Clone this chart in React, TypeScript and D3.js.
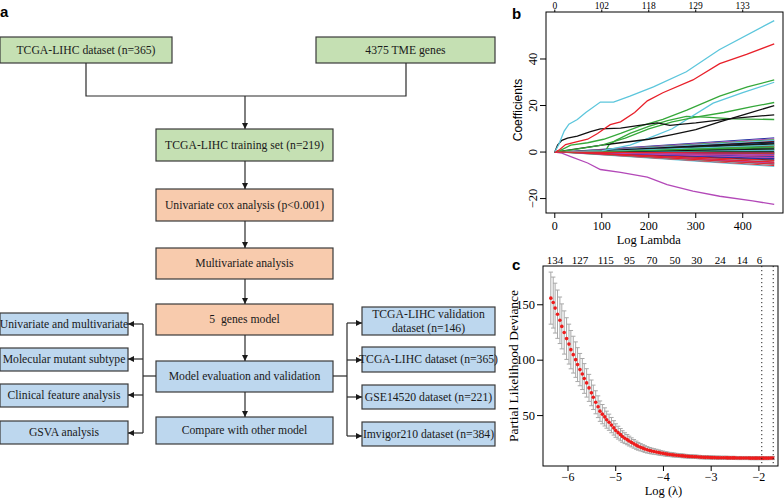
import React from 'react';
import * as d3 from 'd3';

const SERIF = '"Liberation Serif", "Times New Roman", Times, serif';
const SANS = '"Liberation Sans", Arial, Helvetica, sans-serif';

// ---------------- Panel a: flowchart text ----------------
const inputLabels = ['TCGA-LIHC dataset (n=365)', '4375 TME genes'];
const stepLabels = [
  'TCGA-LIHC training set (n=219)',
  'Univariate cox analysis (p<0.001)',
  'Multivariate analysis',
  '5  genes model',
  'Model evaluation and validation',
  'Compare with other model',
];
const stepKinds = ['green', 'orange', 'orange', 'orange', 'blue', 'blue'];
const analysisLabels = [
  'Univariate and multivariate',
  'Molecular mutant subtype',
  'Clinical feature analysis',
  'GSVA analysis',
];
const validationLabels = [
  ['TCGA-LIHC validation', 'dataset (n=146)'],
  ['TCGA-LIHC dataset (n=365)'],
  ['GSE14520 dataset (n=221)'],
  ['Imvigor210 dataset (n=384)'],
];

// ---------------- Panel b: coefficient paths ----------------
const lambdaTicks = [0, 100, 200, 300, 400];
const dfTopLabels = ['0', '102', '118', '129', '133'];
const coefTicks = [-20, 0, 20, 40];

const coefCyanA = [[0, 0], [8, 3], [20, 9], [30, 12], [48, 14], [66, 17], [97, 21.5], [125, 21.5], [160, 24], [210, 28], [280, 34.5], [350, 44], [467, 56.5]];
const coefRedA = [[0, 0], [10, 1], [23, 3.2], [48, 4.5], [70, 5.5], [91, 8], [118, 11.8], [140, 13], [170, 17], [197, 22], [230, 25.5], [294, 31], [351, 38], [408, 42], [467, 46.5]];
const coefGreenA = [[0, 0], [10, 0.5], [34, 3], [70, 4], [104, 5.5], [140, 8], [180, 11], [230, 14], [281, 18], [351, 24], [410, 28], [467, 31]];
const coefGreenB = [[0, 0], [40, 1], [100, 3], [150, 6], [200, 10], [250, 13], [300, 15], [360, 17], [420, 19.5], [467, 21.3]];
const coefGreenC = [[0, 0], [108, 0.5], [115, 3], [130, 5], [160, 8], [200, 11], [240, 13.5], [280, 15.3], [320, 15], [380, 14.3], [467, 14]];
const coefCyanB = [[0, 0], [100, 0.5], [160, 3], [200, 6], [250, 10], [281, 14], [337, 21], [400, 25.5], [467, 30]];
const coefBlackA = [[0, 0], [50, 1.5], [100, 3], [140, 4], [200, 5.5], [250, 7.5], [300, 9.6], [351, 13], [410, 16.5], [467, 20]];
const coefBlackB = [[0, 0], [6, 3], [15, 5], [27, 6], [48, 6.8], [76, 8.8], [97, 10], [140, 10.3], [180, 11.5], [218, 12.5], [245, 11.5], [300, 12.5], [380, 14.5], [467, 16]];
const coefMagentaA = [[0, 0], [15, -0.5], [34, -2], [70, -4.7], [97, -7.5], [140, -8.7], [197, -10.8], [239, -14], [294, -16.8], [351, -19], [421, -21], [467, -22.5]];

// small coefficients fanning out from zero (value at the largest Log Lambda, and where they leave zero)
const fanEnd = [6.1, -6.2, 5.7, 3.9, -5.8, 5.3, 2.6, -5.4, 4.9, -0.4, 4.6, -5.0, 4.2, 1.4, -4.6, 3.6, -4.2, 3.2, 0.8, -3.8, 2.9, -3.4, 2.3, -0.7, -3.0, 2.0, -2.6, 1.7, -2.2, 1.1, -1.9, 0.5, -1.6, 0.2, -1.3, -0.1, -1.0, 5.0, -4.8, 3.4, -3.6, 1.9, -2.8, 0.9, -1.2, 4.4, -5.2, 2.8, -0.3, 3.0, -2.4, 1.3, -4.4, 2.2];
const fanStart = [12, 10, 14, 20, 12, 16, 25, 14, 18, 12, 22, 15, 13, 30, 17, 19, 14, 24, 12, 21, 16, 26, 18, 14, 20, 28, 15, 35, 19, 22, 13, 40, 17, 15, 24, 12, 30, 45, 22, 55, 27, 60, 33, 70, 18, 50, 26, 80, 15, 65, 38, 90, 42, 75];

// ---------------- Panel c: cross-validation ----------------
const logLambda = [
  -6.36, -6.31, -6.27, -6.22, -6.17, -6.13, -6.08, -6.03, -5.98, -5.94,
  -5.89, -5.84, -5.80, -5.75, -5.70, -5.66, -5.61, -5.56, -5.51, -5.47,
  -5.42, -5.37, -5.33, -5.28, -5.23, -5.19, -5.14, -5.09, -5.04, -5.00,
  -4.95, -4.90, -4.86, -4.81, -4.76, -4.72, -4.67, -4.62, -4.57, -4.53,
  -4.48, -4.43, -4.39, -4.34, -4.29, -4.25, -4.20, -4.15, -4.10, -4.06,
  -4.01, -3.96, -3.92, -3.87, -3.82, -3.78, -3.73, -3.68, -3.63, -3.59,
  -3.54, -3.49, -3.45, -3.40, -3.35, -3.31, -3.26, -3.21, -3.16, -3.12,
  -3.07, -3.02, -2.98, -2.93, -2.88, -2.84, -2.79, -2.74, -2.69, -2.65,
  -2.60, -2.55, -2.51, -2.46, -2.41, -2.37, -2.32, -2.27, -2.22, -2.18,
  -2.13, -2.08, -2.04, -1.99, -1.94, -1.90, -1.85, -1.80, -1.75, -1.71,
];
const cvDeviance = [
  156, 152, 147, 141.5, 136, 130.5, 125, 119.5, 114.5, 109.5,
  105, 100.5, 96, 91.5, 87.5, 83.5, 79.5, 75, 70.5, 66.5,
  62, 58, 54, 51.3, 48.8, 46.3, 44, 41.4, 38.9, 36.5,
  34.6, 32.8, 31.1, 29.6, 28.3, 27, 25.8, 24.5, 23.3, 22.3,
  21.4, 20.6, 19.8, 19.1, 18.5, 18, 17.6, 17.2, 16.7, 16.3,
  15.9, 15.5, 15.2, 14.9, 14.7, 14.4, 14.2, 14, 13.8, 13.6,
  13.4, 13.2, 13.1, 13, 12.9, 12.8, 12.6, 12.5, 12.4, 12.3,
  12.3, 12.2, 12.1, 12.1, 12, 12, 11.9, 11.9, 11.9, 11.8,
  11.8, 11.8, 11.8, 11.7, 11.7, 11.7, 11.7, 11.7, 11.7, 11.6,
  11.6, 11.6, 11.6, 11.6, 11.6, 11.6, 11.6, 11.6, 11.7, 11.7,
];
const cvSE = [
  23.5, 23, 22.5, 21.8, 21, 20.3, 19.5, 18.8, 18, 17.3,
  16.6, 16, 15.3, 14.6, 14, 13.4, 12.8, 12.2, 11.6, 11,
  10.4, 9.8, 9.2, 8.7, 8.2, 7.7, 7.3, 6.9, 6.5, 6.1,
  5.8, 5.5, 5.2, 4.9, 4.6, 4.4, 4.1, 3.9, 3.7, 3.5,
  3.3, 3.1, 3, 2.9, 2.7, 2.6, 2.5, 2.4, 2.3, 2.2,
  2.1, 2, 1.95, 1.9, 1.85, 1.8, 1.75, 1.7, 1.7, 1.65,
  1.65, 1.6, 1.6, 1.6, 1.55, 1.55, 1.55, 1.5, 1.5, 1.5,
  1.5, 1.5, 1.5, 1.45, 1.45, 1.45, 1.45, 1.45, 1.45, 1.45,
  1.4, 1.4, 1.4, 1.4, 1.4, 1.4, 1.4, 1.4, 1.4, 1.4,
  1.4, 1.4, 1.4, 1.4, 1.4, 1.4, 1.4, 1.4, 1.4, 1.4,
];
const logTicks = [-6, -5, -4, -3, -2];
const devTicks = [50, 100, 150];
const nzeroAt = [-6.27, -5.75, -5.21, -4.71, -4.24, -3.76, -3.30, -2.81, -2.35, -1.99];
const nzeroLabels = ['134', '127', '115', '95', '70', '50', '30', '24', '14', '6'];
const lambdaMinLog = -1.94;
const lambda1seLog = -1.7;

const PAL = ['#111111', '#e8202a', '#35a83a', '#1b2f9e', '#5cc6dc', '#b348b8'];
const FILL: Record<string, string> = { green: '#c5e0b3', orange: '#f8cbad', blue: '#bdd7ee' };

function Box({ x0, y0, x1, y1, fill, lines }: { x0: number; y0: number; x1: number; y1: number; fill: string; lines: string[] }) {
  const fs = 11.7;
  const cx = (x0 + x1) / 2;
  const cy = (y0 + y1) / 2;
  const lh = 14;
  return (
    <g>
      <rect x={x0} y={y0} width={x1 - x0} height={y1 - y0} fill={fill} stroke="#3a3a3a" strokeWidth={1.2} />
      {lines.map((t, i) => (
        <text
          key={i}
          x={cx}
          y={cy + (i - (lines.length - 1) / 2) * lh + fs * 0.34}
          textAnchor="middle"
          fontFamily={SERIF}
          fontSize={fs}
          fill="#1a1a1a"
          xmlSpace="preserve"
          style={{ whiteSpace: 'pre' }}
        >
          {t}
        </text>
      ))}
    </g>
  );
}

export default function App() {
  // ---- layout panel a ----
  const mX0 = 156, mX1 = 333, mCx = 245;
  const mTop = [129, 189, 248, 304, 361, 417];
  const mBot = [161, 221, 279, 335, 392, 444];
  const inBoxes = [[0, 172], [316, 495]];
  const lTop = [313, 348, 384, 421];
  const lBot = [335, 371, 407, 444];
  const rTop = [307, 347, 385, 422];
  const rBot = [335, 372, 409, 446];
  const lArrowY = [324, 359, 395, 433];
  const rArrowY = [323, 360, 397, 436];
  const lineCol = '#2a2a2a';

  // ---- scales panel b ----
  const xB = d3.scaleLinear().domain([-18.7, 485.7]).range([546, 783]);
  const yB = d3.scaleLinear().domain([-26.2, 60.2]).range([213, 12]);
  const lineB = d3.line<number[]>().x((d) => xB(d[0])).y((d) => yB(d[1]));
  const fanSeries = fanEnd.map((e, i) => [[0, 0], [fanStart[i], 0], [467, e]]);
  const mainSeries: [number[][], string][] = [
    [coefGreenC, PAL[2]],
    [coefCyanB, PAL[4]],
    [coefBlackA, PAL[0]],
    [coefGreenB, PAL[2]],
    [coefGreenA, PAL[2]],
    [coefBlackB, PAL[0]],
    [coefMagentaA, PAL[5]],
    [coefRedA, PAL[1]],
    [coefCyanA, PAL[4]],
  ];

  // ---- scales panel c ----
  const xC = d3.scaleLinear().domain([-6.524, -1.6]).range([543, 778]);
  const yC = d3.scaleLinear().domain([4.5, 185]).range([466, 266]);

  return (
    <svg width={784} height={498} style={{ position: 'absolute', left: 0, top: 0, background: '#fff' }}>
      <defs>
        <marker id="arr" viewBox="0 0 10 10" refX={10} refY={5} markerWidth={6} markerHeight={6} markerUnits="userSpaceOnUse" orient="auto">
          <path d="M0,0 L10,5 L0,10 z" fill="#1a1a1a" />
        </marker>
      </defs>
      <rect x={0} y={0} width={784} height={498} fill="#fff" />

      {/* ================= Panel a ================= */}
      <text x={0} y={17} fontFamily={SANS} fontWeight="bold" fontSize={15}>a</text>
      {inBoxes.map(([a, b], i) => (
        <Box key={i} x0={a} y0={37} x1={b} y1={63} fill={FILL.green} lines={[inputLabels[i]]} />
      ))}
      <polyline points="86,63 86,96 406,96 406,63" fill="none" stroke={lineCol} strokeWidth={1.2} />
      <line x1={mCx} y1={96} x2={mCx} y2={mTop[0]} stroke={lineCol} strokeWidth={1.2} markerEnd="url(#arr)" />
      {stepLabels.map((t, i) => (
        <Box key={i} x0={mX0} y0={mTop[i]} x1={mX1} y1={mBot[i]} fill={FILL[stepKinds[i]]} lines={[t]} />
      ))}
      {stepLabels.slice(1).map((_, i) => (
        <line key={i} x1={mCx} y1={mBot[i]} x2={mCx} y2={mTop[i + 1]} stroke={lineCol} strokeWidth={1.2} markerEnd="url(#arr)" />
      ))}
      {/* left branch */}
      <line x1={mX0} y1={376} x2={143} y2={376} stroke={lineCol} strokeWidth={1.2} />
      <line x1={143} y1={lArrowY[0]} x2={143} y2={lArrowY[3]} stroke={lineCol} strokeWidth={1.2} />
      {analysisLabels.map((t, i) => (
        <g key={i}>
          <Box x0={0} y0={lTop[i]} x1={128} y1={lBot[i]} fill={FILL.blue} lines={[t]} />
          <line x1={143} y1={lArrowY[i]} x2={128} y2={lArrowY[i]} stroke={lineCol} strokeWidth={1.2} markerEnd="url(#arr)" />
        </g>
      ))}
      {/* right branch */}
      <line x1={mX1} y1={376} x2={347} y2={376} stroke={lineCol} strokeWidth={1.2} />
      <line x1={347} y1={rArrowY[0]} x2={347} y2={rArrowY[3]} stroke={lineCol} strokeWidth={1.2} />
      {validationLabels.map((t, i) => (
        <g key={i}>
          <Box x0={362} y0={rTop[i]} x1={495} y1={rBot[i]} fill={FILL.blue} lines={t} />
          <line x1={347} y1={rArrowY[i]} x2={362} y2={rArrowY[i]} stroke={lineCol} strokeWidth={1.2} markerEnd="url(#arr)" />
        </g>
      ))}

      {/* ================= Panel b ================= */}
      <text x={512} y={19} fontFamily={SANS} fontWeight="bold" fontSize={15}>b</text>
      <g>
        {fanSeries.map((s, i) => (
          <path key={i} d={lineB(s) || ''} fill="none" stroke={PAL[(i + 3) % 6]} strokeWidth={1} />
        ))}
        {mainSeries.map(([s, c], i) => (
          <path key={i} d={lineB(s) || ''} fill="none" stroke={c} strokeWidth={1.3} />
        ))}
        <path d={lineB([[0, 0], [12, 0], [467, -0.5]]) || ''} fill="none" stroke={PAL[1]} strokeWidth={1.3} />
      </g>
      <rect x={546} y={12} width={237} height={201} fill="none" stroke="#000" strokeWidth={1} />
      {lambdaTicks.map((t, i) => (
        <g key={i}>
          <line x1={xB(t)} x2={xB(t)} y1={213} y2={218} stroke="#000" />
          <text x={xB(t)} y={229.5} textAnchor="middle" fontFamily={SERIF} fontSize={12}>{t}</text>
          <line x1={xB(t)} x2={xB(t)} y1={12} y2={9.5} stroke="#000" />
          <text x={xB(t)} y={8.5} textAnchor="middle" fontFamily={SERIF} fontSize={9.5}>{dfTopLabels[i]}</text>
        </g>
      ))}
      {coefTicks.map((t, i) => (
        <g key={i}>
          <line x1={540} x2={546} y1={yB(t)} y2={yB(t)} stroke="#000" />
          <text transform={`translate(533,${yB(t)}) rotate(-90)`} textAnchor="middle" dominantBaseline="central" fontFamily={SERIF} fontSize={12.5}>
            {t < 0 ? '\u2212' + Math.abs(t) : t}
          </text>
        </g>
      ))}
      <text x={xB(200)} y={244} textAnchor="middle" fontFamily={SERIF} fontSize={12.5}>Log Lambda</text>
      <text transform="translate(518,110) rotate(-90)" textAnchor="middle" dominantBaseline="central" fontFamily={SANS} fontSize={12}>Coefficients</text>

      {/* ================= Panel c ================= */}
      <text x={512} y={270} fontFamily={SANS} fontWeight="bold" fontSize={15}>c</text>
      {logLambda.map((l, i) => (
        <g key={i} stroke="#a8a8a8" strokeWidth={1}>
          <line x1={xC(l)} x2={xC(l)} y1={yC(cvDeviance[i] - cvSE[i])} y2={yC(cvDeviance[i] + cvSE[i])} />
          <line x1={xC(l) - 2.2} x2={xC(l) + 2.2} y1={yC(cvDeviance[i] - cvSE[i])} y2={yC(cvDeviance[i] - cvSE[i])} />
          <line x1={xC(l) - 2.2} x2={xC(l) + 2.2} y1={yC(cvDeviance[i] + cvSE[i])} y2={yC(cvDeviance[i] + cvSE[i])} />
        </g>
      ))}
      {logLambda.map((l, i) => (
        <circle key={i} cx={xC(l)} cy={yC(cvDeviance[i])} r={1.8} fill="#ee1c1c" />
      ))}
      {[lambdaMinLog, lambda1seLog].map((l, i) => (
        <line key={i} x1={xC(l)} x2={xC(l)} y1={266} y2={466} stroke="#222" strokeWidth={1} strokeDasharray="1.2,2.8" />
      ))}
      <rect x={543} y={266} width={235} height={200} fill="none" stroke="#000" strokeWidth={1} />
      {logTicks.map((t, i) => (
        <g key={i}>
          <line x1={xC(t)} x2={xC(t)} y1={466} y2={471} stroke="#000" />
          <text x={xC(t)} y={481} textAnchor="middle" fontFamily={SERIF} fontSize={12}>{'\u2212' + Math.abs(t)}</text>
        </g>
      ))}
      {devTicks.map((t, i) => (
        <g key={i}>
          <line x1={537} x2={543} y1={yC(t)} y2={yC(t)} stroke="#000" />
          <text x={535} y={yC(t) + 4.3} textAnchor="end" fontFamily={SERIF} fontSize={12.5}>{t}</text>
        </g>
      ))}
      {nzeroAt.map((l, i) => (
        <text key={i} x={xC(l)} y={263.5} textAnchor="middle" fontFamily={SERIF} fontSize={11}>{nzeroLabels[i]}</text>
      ))}
      <text x={xC(-4)} y={495} textAnchor="middle" fontFamily={SERIF} fontSize={12.5}>Log (λ)</text>
      <text transform="translate(513,366) rotate(-90)" textAnchor="middle" dominantBaseline="central" fontFamily={SERIF} fontSize={13.5}>Partial Likelihood Deviance</text>
    </svg>
  );
}
